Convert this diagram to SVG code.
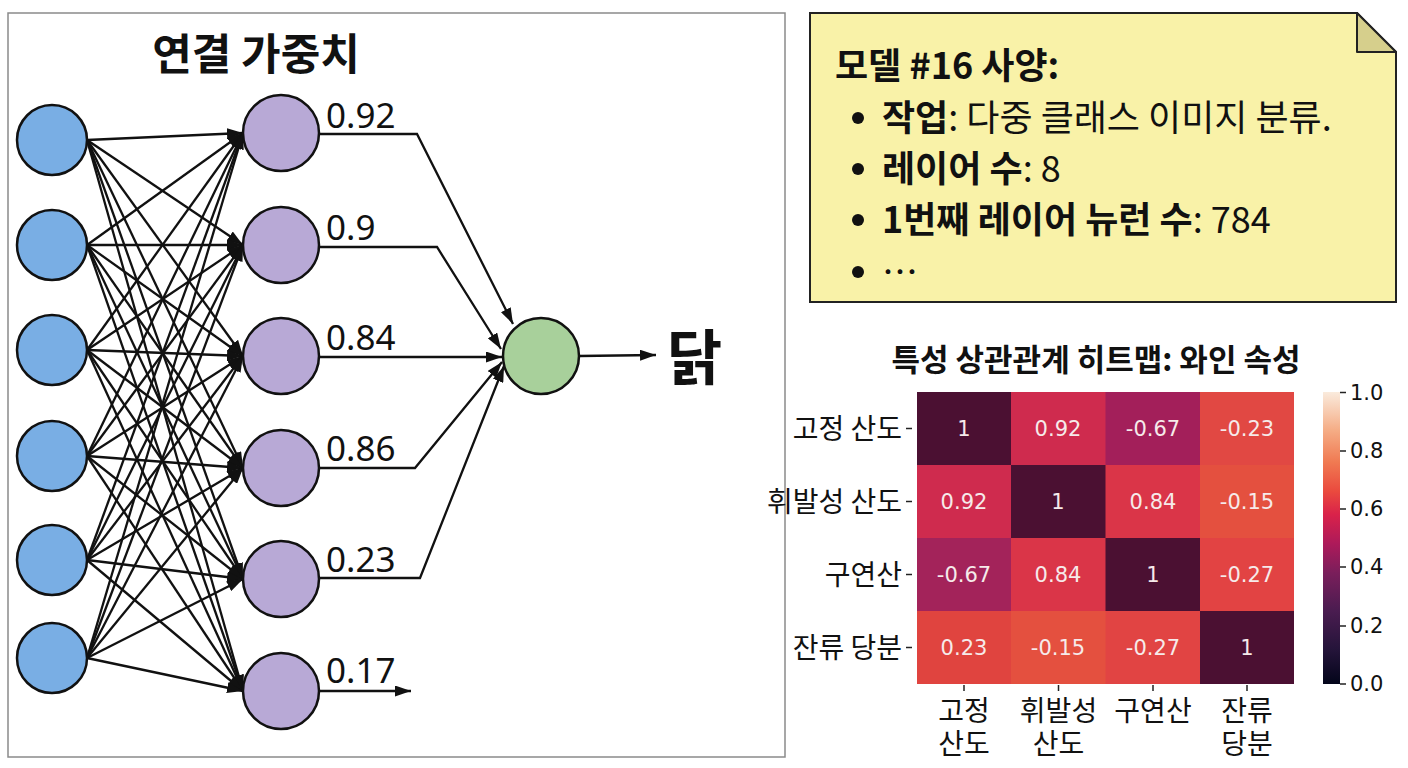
<svg xmlns="http://www.w3.org/2000/svg" width="1408" height="768" viewBox="0 0 1408 768">
<style>
.kr{font-family:"Noto Sans CJK KR","Noto Sans",sans-serif;fill:#111}
.b{font-weight:bold}
.num{font-family:"Noto Sans","Open Sans",sans-serif;font-size:35px;fill:#111}
.cell{font-family:"DejaVu Sans",sans-serif;font-size:21px;fill:#f6eaea;text-anchor:middle}
.cb{font-family:"DejaVu Sans",sans-serif;font-size:21px;fill:#111}
.lab{font-family:"Noto Sans CJK KR",sans-serif;font-size:28px;fill:#111}
.in{fill:#79aee4;stroke:#111;stroke-width:2.5}
.hid{fill:#b8a9d6;stroke:#111;stroke-width:2.5}
.out{fill:#a8d09b;stroke:#111;stroke-width:2.5}
.c line,.c polyline{stroke:#111;stroke-width:2.3;fill:none;marker-end:url(#ah)}
.tk{stroke:#222;stroke-width:1.5}
</style>
<defs>
<marker id="ah" markerWidth="16" markerHeight="11" refX="16" refY="5.5" orient="auto" markerUnits="userSpaceOnUse"><path d="M0,0 L16,5.5 L0,11 z" fill="#111"/></marker>
<linearGradient id="rocket" x1="0" y1="1" x2="0" y2="0">
<stop offset="0" stop-color="#03051a"/>
<stop offset="0.12" stop-color="#25143a"/>
<stop offset="0.25" stop-color="#4a1c50"/>
<stop offset="0.38" stop-color="#7a1e5b"/>
<stop offset="0.48" stop-color="#ad1a5a"/>
<stop offset="0.58" stop-color="#d9224a"/>
<stop offset="0.66" stop-color="#ea4a3e"/>
<stop offset="0.76" stop-color="#f07a52"/>
<stop offset="0.87" stop-color="#f5ad86"/>
<stop offset="1" stop-color="#faebdd"/>
</linearGradient>
</defs>
<rect width="1408" height="768" fill="#fff"/>

<!-- left panel -->
<rect x="8" y="13" width="777" height="744" fill="#fff" stroke="#8a8a8a" stroke-width="1.5"/>
<text x="256" y="70" class="kr b" font-size="43" text-anchor="middle">연결 가중치</text>

<g class="c" id="connectors">
<line x1="87" y1="140" x2="243" y2="133"/><line x1="87" y1="140" x2="243" y2="245"/><line x1="87" y1="140" x2="243" y2="356"/><line x1="87" y1="140" x2="243" y2="468"/><line x1="87" y1="140" x2="243" y2="579"/><line x1="87" y1="140" x2="243" y2="691"/>
<line x1="87" y1="245" x2="243" y2="133"/><line x1="87" y1="245" x2="243" y2="245"/><line x1="87" y1="245" x2="243" y2="356"/><line x1="87" y1="245" x2="243" y2="468"/><line x1="87" y1="245" x2="243" y2="579"/><line x1="87" y1="245" x2="243" y2="691"/>
<line x1="87" y1="350" x2="243" y2="133"/><line x1="87" y1="350" x2="243" y2="245"/><line x1="87" y1="350" x2="243" y2="356"/><line x1="87" y1="350" x2="243" y2="468"/><line x1="87" y1="350" x2="243" y2="579"/><line x1="87" y1="350" x2="243" y2="691"/>
<line x1="87" y1="456" x2="243" y2="133"/><line x1="87" y1="456" x2="243" y2="245"/><line x1="87" y1="456" x2="243" y2="356"/><line x1="87" y1="456" x2="243" y2="468"/><line x1="87" y1="456" x2="243" y2="579"/><line x1="87" y1="456" x2="243" y2="691"/>
<line x1="87" y1="560" x2="243" y2="133"/><line x1="87" y1="560" x2="243" y2="245"/><line x1="87" y1="560" x2="243" y2="356"/><line x1="87" y1="560" x2="243" y2="468"/><line x1="87" y1="560" x2="243" y2="579"/><line x1="87" y1="560" x2="243" y2="691"/>
<line x1="87" y1="658" x2="243" y2="133"/><line x1="87" y1="658" x2="243" y2="245"/><line x1="87" y1="658" x2="243" y2="356"/><line x1="87" y1="658" x2="243" y2="468"/><line x1="87" y1="658" x2="243" y2="579"/><line x1="87" y1="658" x2="243" y2="691"/>
<polyline points="319,134 417,134 513,324"/>
<polyline points="319,247 437,247 501,349"/>
<polyline points="319,357 502,357"/>
<polyline points="319,468 415,468 502,362"/>
<polyline points="319,578 420,578 504,366"/>
<polyline points="319,691 411,691"/>
<line x1="579" y1="356" x2="656" y2="355"/>
</g>

<g id="inputs">
<circle id="in1" cx="52" cy="140" r="35" class="in"/>
<circle id="in2" cx="52" cy="245" r="35" class="in"/>
<circle id="in3" cx="52" cy="350" r="35" class="in"/>
<circle id="in4" cx="52" cy="456" r="35" class="in"/>
<circle id="in5" cx="52" cy="560" r="35" class="in"/>
<circle id="in6" cx="52" cy="658" r="35" class="in"/>
</g>
<g id="h1"><circle cx="281" cy="133" r="38" class="hid"/><text x="326" y="128" class="num">0.92</text></g>
<g id="h2"><circle cx="281" cy="245" r="38" class="hid"/><text x="326" y="240" class="num">0.9</text></g>
<g id="h3"><circle cx="281" cy="356" r="38" class="hid"/><text x="326" y="350" class="num">0.84</text></g>
<g id="h4"><circle cx="281" cy="468" r="38" class="hid"/><text x="326" y="461" class="num">0.86</text></g>
<g id="h5"><circle cx="281" cy="579" r="38" class="hid"/><text x="326" y="572" class="num">0.23</text></g>
<g id="h6"><circle cx="281" cy="691" r="38" class="hid"/><text x="326" y="683" class="num">0.17</text></g>
<g id="output"><circle cx="541" cy="356" r="38" class="out"/><text x="667" y="380" class="kr b" font-size="60">닭</text></g>

<!-- note -->
<g id="note">
<path d="M810,13 L1357,13 L1396,52 L1396,302 L810,302 Z" fill="#f9f2a8" stroke="#222" stroke-width="2"/>
<path d="M1357,13 L1357,52 L1396,52 Z" fill="#d6cf8c" stroke="#222" stroke-width="2" stroke-linejoin="round"/>
<text x="835" y="79" class="kr b" font-size="36">모델 #16 사양:</text>
<circle cx="858" cy="118" r="6" fill="#111"/>
<circle cx="858" cy="169" r="6" fill="#111"/>
<circle cx="858" cy="220" r="6" fill="#111"/>
<circle cx="858" cy="272" r="6" fill="#111"/>
<text x="882" y="131" class="kr" font-size="36"><tspan font-weight="bold">작업</tspan>: 다중 클래스 이미지 분류.</text>
<text x="882" y="182" class="kr" font-size="36"><tspan font-weight="bold">레이어 수</tspan>: 8</text>
<text x="882" y="233" class="kr" font-size="36"><tspan font-weight="bold">1번째 레이어 뉴런 수</tspan>: 784</text>
<text x="882" y="286" class="kr" font-size="36">…</text>
</g>

<!-- heatmap -->
<g id="heatmap">
<text x="1096" y="371" class="kr b" font-size="31" text-anchor="middle">특성 상관관계 히트맵: 와인 속성</text>
<rect x="917" y="392" width="95" height="73" fill="#4b1032"/>
<rect x="1011" y="392" width="95" height="73" fill="#cf2b4e"/>
<rect x="1105.5" y="392" width="95" height="73" fill="#a31f5a"/>
<rect x="1200" y="392" width="94" height="73" fill="#e14843"/>
<rect x="917" y="465" width="95" height="73" fill="#cf2b4e"/>
<rect x="1011" y="465" width="95" height="73" fill="#4b1032"/>
<rect x="1105.5" y="465" width="95" height="73" fill="#da3548"/>
<rect x="1200" y="465" width="94" height="73" fill="#e4503f"/>
<rect x="917" y="538" width="95" height="73" fill="#a3235a"/>
<rect x="1011" y="538" width="95" height="73" fill="#da3548"/>
<rect x="1105.5" y="538" width="95" height="73" fill="#4b1032"/>
<rect x="1200" y="538" width="94" height="73" fill="#e24343"/>
<rect x="917" y="611" width="95" height="73" fill="#e0443f"/>
<rect x="1011" y="611" width="95" height="73" fill="#e4503f"/>
<rect x="1105.5" y="611" width="95" height="73" fill="#e14443"/>
<rect x="1200" y="611" width="94" height="73" fill="#4b1032"/>
<text x="964" y="436" class="cell">1</text><text x="1058" y="436" class="cell">0.92</text><text x="1153" y="436" class="cell">-0.67</text><text x="1247" y="436" class="cell">-0.23</text>
<text x="964" y="509" class="cell">0.92</text><text x="1058" y="509" class="cell">1</text><text x="1153" y="509" class="cell">0.84</text><text x="1247" y="509" class="cell">-0.15</text>
<text x="964" y="582" class="cell">-0.67</text><text x="1058" y="582" class="cell">0.84</text><text x="1153" y="582" class="cell">1</text><text x="1247" y="582" class="cell">-0.27</text>
<text x="964" y="655" class="cell">0.23</text><text x="1058" y="655" class="cell">-0.15</text><text x="1153" y="655" class="cell">-0.27</text><text x="1247" y="655" class="cell">1</text>
<line x1="906" y1="428.5" x2="912" y2="428.5" class="tk"/><line x1="906" y1="501.5" x2="912" y2="501.5" class="tk"/><line x1="906" y1="574.5" x2="912" y2="574.5" class="tk"/><line x1="906" y1="647.5" x2="912" y2="647.5" class="tk"/>
<line x1="964" y1="685" x2="964" y2="691" class="tk"/><line x1="1058.5" y1="685" x2="1058.5" y2="691" class="tk"/><line x1="1153" y1="685" x2="1153" y2="691" class="tk"/><line x1="1247" y1="685" x2="1247" y2="691" class="tk"/>
<text x="902" y="439" class="lab" text-anchor="end">고정 산도</text>
<text x="902" y="512" class="lab" text-anchor="end">휘발성 산도</text>
<text x="902" y="585" class="lab" text-anchor="end">구연산</text>
<text x="902" y="658" class="lab" text-anchor="end">잔류 당분</text>
<text class="lab" text-anchor="middle"><tspan x="964" y="721">고정</tspan><tspan x="964" y="754">산도</tspan></text>
<text class="lab" text-anchor="middle"><tspan x="1058.5" y="721">휘발성</tspan><tspan x="1058.5" y="754">산도</tspan></text>
<text x="1153" y="721" class="lab" text-anchor="middle">구연산</text>
<text class="lab" text-anchor="middle"><tspan x="1247" y="721">잔류</tspan><tspan x="1247" y="754">당분</tspan></text>
<rect x="1323" y="392" width="17" height="292" fill="url(#rocket)"/>
<line x1="1340" y1="392.5" x2="1346" y2="392.5" class="tk"/><line x1="1340" y1="451" x2="1346" y2="451" class="tk"/><line x1="1340" y1="509" x2="1346" y2="509" class="tk"/><line x1="1340" y1="567" x2="1346" y2="567" class="tk"/><line x1="1340" y1="626" x2="1346" y2="626" class="tk"/><line x1="1340" y1="684" x2="1346" y2="684" class="tk"/>
<text x="1350" y="400" class="cb">1.0</text>
<text x="1350" y="458" class="cb">0.8</text>
<text x="1350" y="516" class="cb">0.6</text>
<text x="1350" y="574" class="cb">0.4</text>
<text x="1350" y="633" class="cb">0.2</text>
<text x="1350" y="691" class="cb">0.0</text>
</g>
</svg>
